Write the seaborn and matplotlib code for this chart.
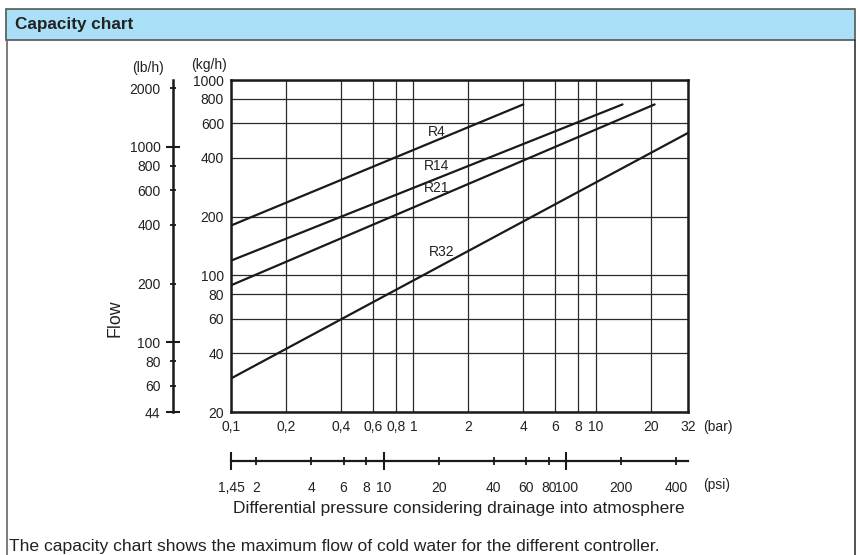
import numpy as np
import pandas as pd
import matplotlib
matplotlib.use("Agg")
import matplotlib.pyplot as plt
import seaborn as sns
from matplotlib.patches import Rectangle
from matplotlib.lines import Line2D
from matplotlib.ticker import FixedLocator, FixedFormatter, NullLocator

# ---------------- data ----------------
curves = ["R4", "R14", "R21", "R32"]
p_start = [0.1, 0.1, 0.1, 0.1]          # bar
p_end = [4.0, 14.0, 21.0, 32.0]         # bar
flow_start = [180, 119, 89, 29.7]       # kg/h
flow_end = [750, 750, 750, 536]         # kg/h
label_p = [1.34, 1.34, 1.34, 1.42]
label_flow = [543, 364, 280, 132]

bar_ticks = [0.1, 0.2, 0.4, 0.6, 0.8, 1, 2, 4, 6, 8, 10, 20, 32]
bar_labels = ["0,1", "0,2", "0,4", "0,6", "0,8", "1", "2", "4", "6", "8", "10", "20", "32"]
psi_major = [1.45, 10, 100]
psi_major_labels = ["1,45", "10", "100"]
psi_minor = [2, 4, 6, 8, 20, 40, 60, 80, 200, 400]
psi_minor_labels = ["2", "4", "6", "8", "20", "40", "60", "80", "200", "400"]
kg_ticks = [20, 40, 60, 80, 100, 200, 400, 600, 800, 1000]
kg_labels = ["20", "40", "60", "80", "100", "200", "400", "600", "800", "1000"]
lb_major = [44, 100, 1000]
lb_major_labels = ["44", "100", "1000"]
lb_minor = [60, 80, 200, 400, 600, 800, 2000]
lb_minor_labels = ["60", "80", "200", "400", "600", "800", "2000"]

KG2LB = 2.2
BAR2PSI = 14.5

rows = []
for c, ps, pe, fs, fe in zip(curves, p_start, p_end, flow_start, flow_end):
    rows.append({"curve": c, "pressure": ps, "flow": fs})
    rows.append({"curve": c, "pressure": pe, "flow": fe})
df = pd.DataFrame(rows)

# ---------------- style ----------------
sns.set_theme(style="white")
plt.rcParams["font.family"] = ["Liberation Sans", "DejaVu Sans"]
plt.rcParams["text.color"] = "#222222"

W, H = 860, 555
fig = plt.figure(figsize=(W / 100, H / 100), dpi=100)
fig.patch.set_facecolor("white")

def fx(px):
    return px / W

def fy(py):
    return 1 - py / H

TS = 10  # tick label size

# panel frame and header band
fig.add_artist(Rectangle((fx(6), fy(40)), fx(849), 31 / H, transform=fig.transFigure,
                         facecolor="#AADFF8", edgecolor="#555555", lw=1.2, zorder=0))
fig.add_artist(Line2D([fx(6.5), fx(6.5)], [fy(40), 0], transform=fig.transFigure,
                      color="#666666", lw=1.2))
fig.add_artist(Line2D([fx(854.5), fx(854.5)], [fy(40), 0], transform=fig.transFigure,
                      color="#333333", lw=1.2))
fig.text(fx(15), fy(25), "Capacity chart", fontsize=12.3, fontweight="bold",
         ha="left", va="center", color="#222222")

# main axes
L, R, T, B = 231, 688, 80, 412
ax = fig.add_axes([fx(L), fy(B), (R - L) / W, (B - T) / H])
ax.set_facecolor("white")

sns.lineplot(data=df, x="pressure", y="flow", units="curve", estimator=None,
             color="#1a1a1a", lw=1.6, ax=ax, legend=False)

ax.set_xscale("log")
ax.set_yscale("log")
ax.set_xlim(0.1, 32)
ax.set_ylim(20, 1000)

ax.xaxis.set_major_locator(FixedLocator(bar_ticks))
ax.xaxis.set_major_formatter(FixedFormatter(bar_labels))
ax.xaxis.set_minor_locator(NullLocator())
ax.yaxis.set_major_locator(FixedLocator(kg_ticks))
ax.yaxis.set_major_formatter(FixedFormatter(kg_labels))
ax.yaxis.set_minor_locator(NullLocator())
ax.grid(True, which="major", color="#2a2a2a", lw=0.9)
ax.tick_params(axis="x", length=0, pad=5.5, labelsize=TS, labelcolor="#222222")
ax.tick_params(axis="y", length=0, pad=5, labelsize=TS, labelcolor="#222222")
ax.set_xlabel("")
ax.set_ylabel("")
for s in ax.spines.values():
    s.set_color("#1a1a1a")
    s.set_linewidth(1.8)

for c, lp, lf in zip(curves, label_p, label_flow):
    ax.text(lp, lf, c, fontsize=TS, ha="center", va="center", color="#222222")

# lb/h secondary axis
secy = ax.secondary_yaxis(-(L - 172.5) / (R - L),
                          functions=(lambda k: k * KG2LB, lambda l: l / KG2LB))
secy.yaxis.set_major_locator(FixedLocator(lb_major))
secy.yaxis.set_major_formatter(FixedFormatter(lb_major_labels))
secy.yaxis.set_minor_locator(FixedLocator(lb_minor))
secy.yaxis.set_minor_formatter(FixedFormatter(lb_minor_labels))
secy.tick_params(which="major", direction="inout", length=10, width=1.5, pad=3.6,
                 labelsize=TS, labelcolor="#222222", color="#1a1a1a")
secy.tick_params(which="minor", direction="inout", length=5, width=1.3, pad=6.1,
                 labelsize=TS, labelcolor="#222222", color="#1a1a1a")
secy.spines["left"].set_linewidth(1.8)
secy.spines["left"].set_color("#1a1a1a")

# psi secondary axis
secx = ax.secondary_xaxis(-(461 - B) / (B - T),
                          functions=(lambda b: b * BAR2PSI, lambda p: p / BAR2PSI))
secx.xaxis.set_major_locator(FixedLocator(psi_major))
secx.xaxis.set_major_formatter(FixedFormatter(psi_major_labels))
secx.xaxis.set_minor_locator(FixedLocator(psi_minor))
secx.xaxis.set_minor_formatter(FixedFormatter(psi_minor_labels))
secx.tick_params(which="major", direction="inout", length=13, width=1.5, pad=7.6,
                 labelsize=TS, labelcolor="#222222", color="#1a1a1a")
secx.tick_params(which="minor", direction="inout", length=6, width=1.3, pad=11.1,
                 labelsize=TS, labelcolor="#222222", color="#1a1a1a")
secx.spines["bottom"].set_linewidth(1.6)
secx.spines["bottom"].set_color("#1a1a1a")

# unit and axis labels
fig.text(fx(148), fy(68), "(lb/h)", fontsize=TS, ha="center", va="center")
fig.text(fx(209), fy(65), "(kg/h)", fontsize=TS, ha="center", va="center")
fig.text(fx(718), fy(427), "(bar)", fontsize=TS, ha="center", va="center")
fig.text(fx(717), fy(485), "(psi)", fontsize=TS, ha="center", va="center")
fig.text(fx(115), fy(318), "Flow", fontsize=12.8, rotation=90, ha="center", va="center")
fig.text(fx(459), fy(508), "Differential pressure considering drainage into atmosphere",
         fontsize=12.5, ha="center", va="center")
fig.text(fx(9), fy(550.5), "The capacity chart shows the maximum flow of cold water for the different controller.",
         fontsize=12.6, ha="left", va="baseline")

fig.savefig("out.png", dpi=100, facecolor="white")
